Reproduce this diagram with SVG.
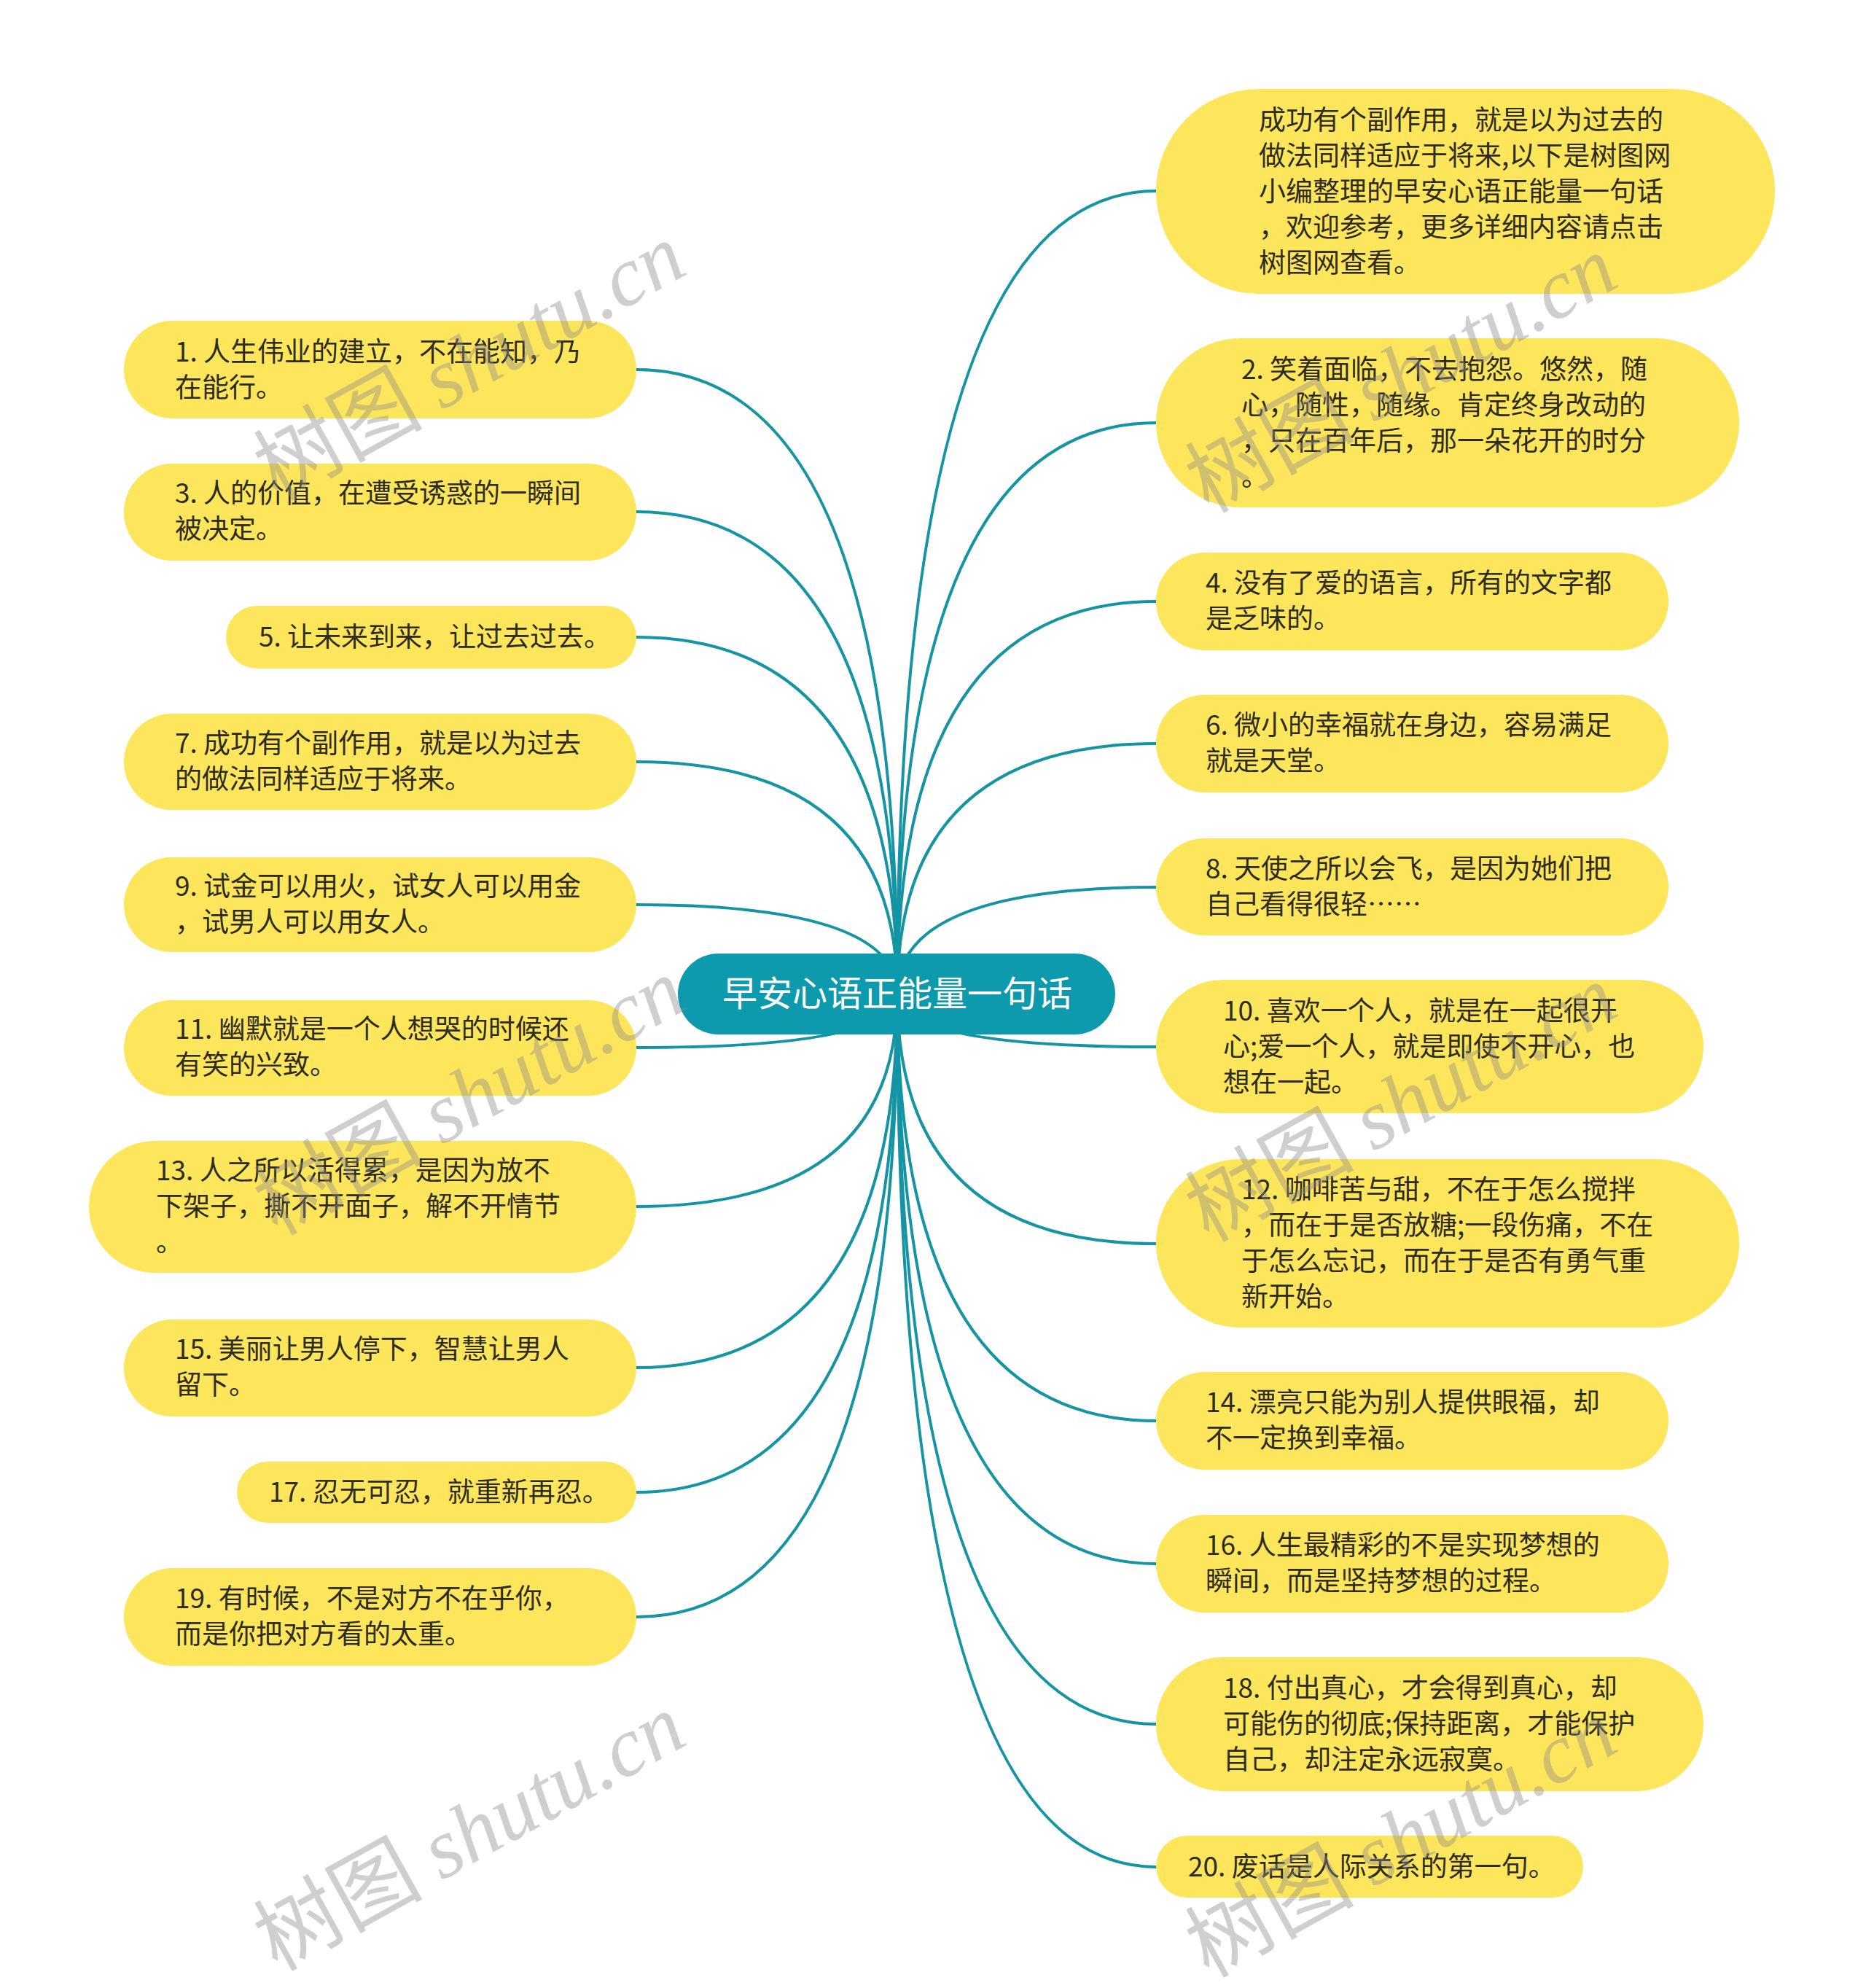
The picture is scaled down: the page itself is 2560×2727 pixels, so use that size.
<svg xmlns="http://www.w3.org/2000/svg" width="2560" height="2727" viewBox="0 0 2560 2727">
<style>
.link{fill:none;stroke:#1594a4;stroke-width:4;stroke-linecap:round}
.leaf{fill:#fde55c}
.t{font-family:"Noto Sans CJK SC","Noto Sans",sans-serif;font-size:37px;fill:#2e2b1f}
.root{fill:#0c9aac}
.rt{font-family:"Noto Sans CJK SC","Noto Sans",sans-serif;font-size:48px;fill:#ffffff}
.wm{font-family:"Noto Sans CJK SC",sans-serif;font-size:116px;fill:#8a8a8a;opacity:0.4}
.wm .en{font-family:"Liberation Serif",serif;font-style:italic}
</style>
<rect width="2560" height="2727" fill="#ffffff"/>
<g id="connectors">
<path class="link" d="M1231 1363 Q1231 507 873 507"/>
<path class="link" d="M1231 1363 Q1231 702 873 702"/>
<path class="link" d="M1231 1363 Q1231 874 873 874"/>
<path class="link" d="M1231 1363 Q1231 1045 873 1045"/>
<path class="link" d="M1231 1363 Q1231 1241 873 1241"/>
<path class="link" d="M1231 1363 Q1231 1437 873 1437"/>
<path class="link" d="M1231 1363 Q1231 1655 873 1655"/>
<path class="link" d="M1231 1363 Q1231 1876 873 1876"/>
<path class="link" d="M1231 1363 Q1231 2047 873 2047"/>
<path class="link" d="M1231 1363 Q1231 2218 873 2218"/>
<path class="link" d="M1231 1363 Q1231 262 1586 262"/>
<path class="link" d="M1231 1363 Q1231 580 1586 580"/>
<path class="link" d="M1231 1363 Q1231 825 1586 825"/>
<path class="link" d="M1231 1363 Q1231 1020 1586 1020"/>
<path class="link" d="M1231 1363 Q1231 1217 1586 1217"/>
<path class="link" d="M1231 1363 Q1231 1436 1586 1436"/>
<path class="link" d="M1231 1363 Q1231 1706 1586 1706"/>
<path class="link" d="M1231 1363 Q1231 1949 1586 1949"/>
<path class="link" d="M1231 1363 Q1231 2145 1586 2145"/>
<path class="link" d="M1231 1363 Q1231 2365 1586 2365"/>
<path class="link" d="M1231 1363 Q1231 2561 1586 2561"/>
</g>
<g id="root">
<rect class="root" x="930" y="1308" width="600" height="111" rx="55.5"/>
<text class="rt" x="1231" y="1380" text-anchor="middle">早安心语正能量一句话</text>
</g>
<g id="n1"><rect class="leaf" x="170" y="440" width="703" height="134" rx="67"/>
<text class="t" x="240" y="496">1. 人生伟业的建立，不在能知，乃</text><text class="t" x="240" y="545">在能行。</text></g>
<g id="n3"><rect class="leaf" x="170" y="636" width="703" height="133" rx="66.5"/>
<text class="t" x="240" y="690">3. 人的价值，在遭受诱惑的一瞬间</text><text class="t" x="240" y="739">被决定。</text></g>
<g id="n5"><rect class="leaf" x="310" y="831" width="563" height="86" rx="43"/>
<text class="t" x="355" y="887">5. 让未来到来，让过去过去。</text></g>
<g id="n7"><rect class="leaf" x="170" y="979" width="703" height="132" rx="66"/>
<text class="t" x="240" y="1033">7. 成功有个副作用，就是以为过去</text><text class="t" x="240" y="1082">的做法同样适应于将来。</text></g>
<g id="n9"><rect class="leaf" x="170" y="1176" width="703" height="130" rx="65"/>
<text class="t" x="240" y="1229">9. 试金可以用火，试女人可以用金</text><text class="t" x="240" y="1278">，试男人可以用女人。</text></g>
<g id="n11"><rect class="leaf" x="170" y="1372" width="703" height="131" rx="65.5"/>
<text class="t" x="240" y="1425">11. 幽默就是一个人想哭的时候还</text><text class="t" x="240" y="1474">有笑的兴致。</text></g>
<g id="n13"><rect class="leaf" x="122" y="1565" width="751" height="181" rx="90.5"/>
<text class="t" x="214" y="1619">13. 人之所以活得累，是因为放不</text><text class="t" x="214" y="1668">下架子，撕不开面子，解不开情节</text><text class="t" x="214" y="1717">。</text></g>
<g id="n15"><rect class="leaf" x="170" y="1810" width="703" height="133" rx="66.5"/>
<text class="t" x="240" y="1864">15. 美丽让男人停下，智慧让男人</text><text class="t" x="240" y="1913">留下。</text></g>
<g id="n17"><rect class="leaf" x="325" y="2005" width="548" height="84" rx="42"/>
<text class="t" x="369" y="2060">17. 忍无可忍，就重新再忍。</text></g>
<g id="n19"><rect class="leaf" x="170" y="2151" width="703" height="134" rx="67"/>
<text class="t" x="240" y="2206">19. 有时候，不是对方不在乎你，</text><text class="t" x="240" y="2255">而是你把对方看的太重。</text></g>
<g id="intro"><rect class="leaf" x="1586" y="122" width="849" height="281" rx="140.5"/>
<text class="t" x="1727" y="178">成功有个副作用，就是以为过去的</text><text class="t" x="1727" y="227">做法同样适应于将来,以下是树图网</text><text class="t" x="1727" y="276">小编整理的早安心语正能量一句话</text><text class="t" x="1727" y="325">，欢迎参考，更多详细内容请点击</text><text class="t" x="1727" y="374">树图网查看。</text></g>
<g id="n2"><rect class="leaf" x="1586" y="464" width="800" height="232" rx="116"/>
<text class="t" x="1703" y="520">2. 笑着面临，不去抱怨。悠然，随</text><text class="t" x="1703" y="569">心，随性，随缘。肯定终身改动的</text><text class="t" x="1703" y="618">，只在百年后，那一朵花开的时分</text><text class="t" x="1703" y="667">。</text></g>
<g id="n4"><rect class="leaf" x="1586" y="758" width="703" height="134" rx="67"/>
<text class="t" x="1654" y="813">4. 没有了爱的语言，所有的文字都</text><text class="t" x="1654" y="862">是乏味的。</text></g>
<g id="n6"><rect class="leaf" x="1586" y="953" width="703" height="134" rx="67"/>
<text class="t" x="1654" y="1008">6. 微小的幸福就在身边，容易满足</text><text class="t" x="1654" y="1057">就是天堂。</text></g>
<g id="n8"><rect class="leaf" x="1586" y="1150" width="703" height="133" rx="66.5"/>
<text class="t" x="1654" y="1205">8. 天使之所以会飞，是因为她们把</text><text class="t" x="1654" y="1254">自己看得很轻……</text></g>
<g id="n10"><rect class="leaf" x="1586" y="1344" width="751" height="183" rx="91.5"/>
<text class="t" x="1678" y="1400">10. 喜欢一个人，就是在一起很开</text><text class="t" x="1678" y="1449">心;爱一个人，就是即使不开心，也</text><text class="t" x="1678" y="1498">想在一起。</text></g>
<g id="n12"><rect class="leaf" x="1586" y="1590" width="800" height="231" rx="115.5"/>
<text class="t" x="1703" y="1645">12. 咖啡苦与甜，不在于怎么搅拌</text><text class="t" x="1703" y="1694">，而在于是否放糖;一段伤痛，不在</text><text class="t" x="1703" y="1743">于怎么忘记，而在于是否有勇气重</text><text class="t" x="1703" y="1792">新开始。</text></g>
<g id="n14"><rect class="leaf" x="1586" y="1882" width="703" height="134" rx="67"/>
<text class="t" x="1654" y="1937">14. 漂亮只能为别人提供眼福，却</text><text class="t" x="1654" y="1986">不一定换到幸福。</text></g>
<g id="n16"><rect class="leaf" x="1586" y="2078" width="703" height="134" rx="67"/>
<text class="t" x="1654" y="2133">16. 人生最精彩的不是实现梦想的</text><text class="t" x="1654" y="2182">瞬间，而是坚持梦想的过程。</text></g>
<g id="n18"><rect class="leaf" x="1586" y="2273" width="751" height="184" rx="92"/>
<text class="t" x="1678" y="2329">18. 付出真心，才会得到真心，却</text><text class="t" x="1678" y="2378">可能伤的彻底;保持距离，才能保护</text><text class="t" x="1678" y="2427">自己，却注定永远寂寞。</text></g>
<g id="n20"><rect class="leaf" x="1586" y="2518" width="586" height="85" rx="42.5"/>
<text class="t" x="1630" y="2574">20. 废话是人际关系的第一句。</text></g>
<g id="watermarks">
<text class="wm" transform="translate(644 496) rotate(-29)" text-anchor="middle" y="40">树图 <tspan class="en">shutu.cn</tspan></text>
<text class="wm" transform="translate(1922 513) rotate(-29)" text-anchor="middle" y="40">树图 <tspan class="en">shutu.cn</tspan></text>
<text class="wm" transform="translate(644 1504) rotate(-29)" text-anchor="middle" y="40">树图 <tspan class="en">shutu.cn</tspan></text>
<text class="wm" transform="translate(1922 1513) rotate(-29)" text-anchor="middle" y="40">树图 <tspan class="en">shutu.cn</tspan></text>
<text class="wm" transform="translate(644 2513) rotate(-29)" text-anchor="middle" y="40">树图 <tspan class="en">shutu.cn</tspan></text>
<text class="wm" transform="translate(1922 2522) rotate(-29)" text-anchor="middle" y="40">树图 <tspan class="en">shutu.cn</tspan></text>
</g>
</svg>
